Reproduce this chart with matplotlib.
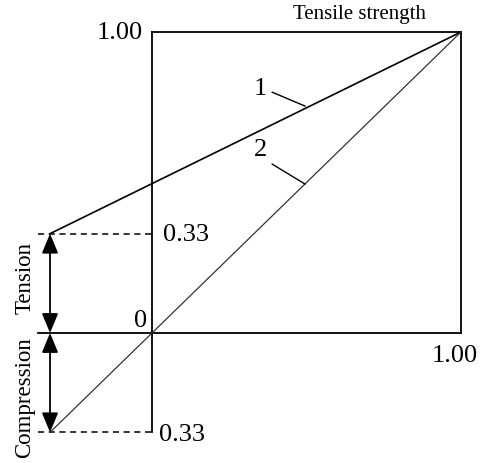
import matplotlib
matplotlib.use('Agg')
import matplotlib.pyplot as plt

# diagram values
ratio = 0.33          # compressive / tensile ratio shown on the chart
top = 1.00            # tensile strength
line1_x = [-ratio, top]
line1_y = [ratio, top]
line2_x = [-ratio, top]
line2_y = [-ratio, top]
axis_labels = ['1.00', '0.33', '0', '1.00', '0.33']

plt.rcParams['font.family'] = ['Liberation Serif', 'DejaVu Serif']

fig = plt.figure(figsize=(4.85, 4.64), dpi=100)
ax = fig.add_axes([0, 0, 1, 1])
ax.set_xlim(-152 / 309, 333 / 309)
ax.set_ylim(-130 / 301, 334 / 301)
ax.axis('off')

k = 'black'
# box and axes
ax.plot([0, top], [top, top], color=k, lw=1.3)
ax.plot([top, top], [0, top], color=k, lw=1.3)
ax.plot([0, 0], [-ratio, top], color=k, lw=1.3)
ax.plot([-0.37, top], [0, 0], color=k, lw=1.3)

# dashed guides
ax.plot([-0.37, 0], [ratio, ratio], color=k, lw=1.1, ls=(0, (4, 3)))
ax.plot([-0.37, 0], [-ratio, -ratio], color=k, lw=1.1, ls=(0, (4, 3)))

# strength lines
ax.plot(line1_x, line1_y, color=k, lw=1.2)
ax.plot(line2_x, line2_y, color='#333333', lw=0.9)

# arrows
ap = dict(arrowstyle='<|-|>,head_length=1.2,head_width=0.5', color=k, lw=1.3,
          shrinkA=0, shrinkB=0)
ax.annotate('', xy=(-ratio, ratio), xytext=(-ratio, 0), arrowprops=ap)
ax.annotate('', xy=(-ratio, -ratio), xytext=(-ratio, 0), arrowprops=ap)

# labels
fs = 19
ax.text(-0.029, top, axis_labels[0], ha='right', va='center', fontsize=fs)
ax.text(0.036, ratio, axis_labels[1], ha='left', va='center', fontsize=fs)
ax.text(-0.016, 0.006, axis_labels[2], ha='right', va='bottom', fontsize=fs)
ax.text(0.981, -0.073, axis_labels[3], ha='center', va='center', fontsize=fs)
ax.text(0.023, -ratio - 0.005, axis_labels[4], ha='left', va='center', fontsize=fs)
ax.text(0.672, 1.06, 'Tensile strength', ha='center', va='center', fontsize=15)
ax.text(-0.411, 0.186, 'Tension', ha='center', va='center', rotation=90, fontsize=16.5)
ax.text(-0.411, -0.213, 'Compression', ha='center', va='center', rotation=90, fontsize=16.5)

# curve ids with leader lines
ax.text(0.35, 0.815, '1', ha='center', va='center', fontsize=fs)
ax.plot([0.389, 0.495], [0.800, 0.754], color=k, lw=1.0)
ax.text(0.35, 0.61, '2', ha='center', va='center', fontsize=fs)
ax.plot([0.389, 0.495], [0.561, 0.495], color=k, lw=1.0)

fig.savefig('out.png', dpi=100)
